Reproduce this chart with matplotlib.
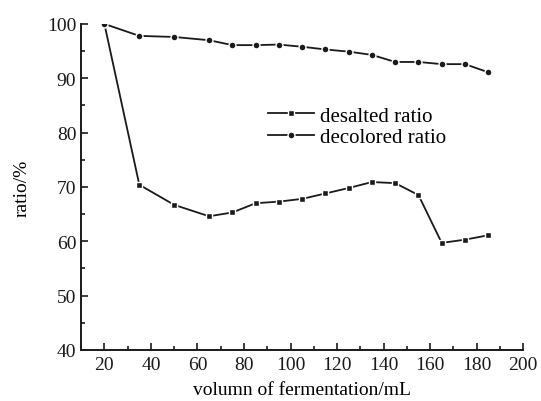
import matplotlib
matplotlib.use("Agg")
import matplotlib.pyplot as plt
from matplotlib.ticker import MultipleLocator

volume = [20, 35, 50, 65, 75, 85, 95, 105, 115, 125, 135, 145, 155, 165, 175, 185]
desalted = [100, 70.4, 66.7, 64.6, 65.3, 67.0, 67.3, 67.8, 68.8, 69.8, 70.9, 70.7, 68.5, 59.7, 60.3, 61.1]
decolored = [100, 97.8, 97.6, 97.0, 96.1, 96.1, 96.2, 95.8, 95.3, 94.9, 94.3, 93.0, 93.0, 92.6, 92.6, 91.1]

plt.rcParams['font.family'] = ['Liberation Serif', 'DejaVu Serif']
plt.rcParams['font.size'] = 12

fig = plt.figure(figsize=(5.41, 4.02), dpi=100)
ax = fig.add_axes([0.150, 0.127, 0.817, 0.811])

col = '#1a1a1a'
ax.plot(volume, desalted, color=col, lw=1.3, marker='s', ms=4.5, mfc=col,
        mec='white', mew=1.0, label='desalted ratio')
ax.plot(volume, decolored, color=col, lw=1.3, marker='o', ms=5, mfc=col,
        mec='white', mew=1.0, label='decolored ratio')

ax.set_xlim(10, 200)
ax.set_ylim(40, 100)
ax.xaxis.set_major_locator(MultipleLocator(20))
ax.xaxis.set_minor_locator(MultipleLocator(10))
ax.yaxis.set_major_locator(MultipleLocator(10))
ax.yaxis.set_minor_locator(MultipleLocator(5))
ax.set_xticks(range(20, 201, 20))
ax.tick_params(which='both', direction='in', width=1.2, colors=col, labelsize=14)
ax.tick_params(which='major', length=5)
ax.tick_params(which='minor', length=3)
ax.tick_params(axis='x', pad=4)
for s in ['top', 'right']:
    ax.spines[s].set_visible(False)
for s in ['left', 'bottom']:
    ax.spines[s].set_linewidth(1.4)
    ax.spines[s].set_color(col)

ax.set_xlabel('volumn of fermentation/mL', fontsize=14, labelpad=6)
ax.set_ylabel('ratio/%', fontsize=14, labelpad=12)

ax.legend(loc='upper left', bbox_to_anchor=(0.40, 0.78), frameon=False,
          fontsize=15, handlelength=2.2, labelspacing=0.1, handletextpad=0.3,
          borderpad=0)

fig.savefig('out.png', dpi=100)
